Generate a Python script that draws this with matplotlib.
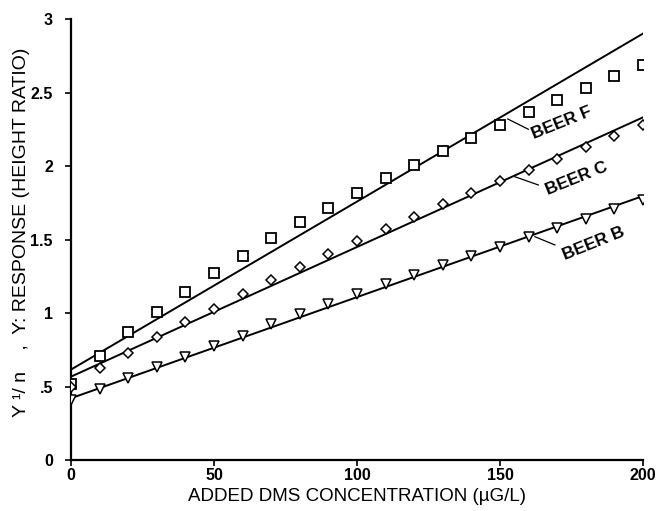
import matplotlib
matplotlib.use("Agg")
import matplotlib.pyplot as plt
import numpy as np

plt.rcParams['font.family'] = ['Liberation Sans', 'DejaVu Sans']

# Added DMS concentration (ug/L)
conc = [0, 10, 20, 30, 40, 50, 60, 70, 80, 90, 100,
        110, 120, 130, 140, 150, 160, 170, 180, 190, 200]

# Measured responses
beer_f = [0.52, 0.71, 0.87, 1.01, 1.145, 1.27, 1.39, 1.508, 1.617, 1.716, 1.818,
          1.916, 2.009, 2.10, 2.193, 2.279, 2.37, 2.449, 2.533, 2.612, 2.69]
beer_c = [0.50, 0.624, 0.73, 0.835, 0.939, 1.03, 1.13, 1.224, 1.315, 1.40, 1.49,
          1.571, 1.653, 1.739, 1.816, 1.896, 1.973, 2.05, 2.127, 2.202, 2.277]
beer_b = [0.41, 0.48, 0.56, 0.63, 0.703, 0.776, 0.846, 0.922, 0.996, 1.061, 1.129,
          1.195, 1.261, 1.327, 1.388, 1.451, 1.519, 1.576, 1.639, 1.705, 1.769]

# Regression lines (intercept, slope) for Y^(1/n)
fit_f = (0.615, 0.01143)
fit_c = (0.567, 0.00882)
fit_b = (0.42, 0.00688)

series_names = ["BEER F", "BEER C", "BEER B"]

y_ticks = [0, 0.5, 1, 1.5, 2, 2.5, 3]
y_tick_labels = ["0", ".5", "1", "1.5", "2", "2.5", "3"]
x_ticks = [0, 50, 100, 150, 200]
x_tick_labels = ["0", "50", "100", "150", "200"]

fig = plt.figure(figsize=(6.56, 5.11), dpi=100)
ax = fig.add_axes([0.1082, 0.0998, 0.8720, 0.8630])

xs = np.array([0, 200])
for (b0, b1) in (fit_f, fit_c, fit_b):
    ax.plot(xs, b0 + b1 * xs, color='black', lw=1.4, zorder=2)

ax.plot(conc, beer_f, linestyle='none', marker='s', ms=7.5, mfc='white',
        mec='black', mew=1.3, zorder=3)
ax.plot(conc, beer_c, linestyle='none', marker='D', ms=5, mfc='white',
        mec='black', mew=1.1, zorder=3)
ax.plot(conc, beer_b, linestyle='none', marker='v', ms=6.5, mfc='white',
        mec='black', mew=1.1, zorder=3)

# Series labels with leader lines
label_pos = [(171.6, 2.29), (176.8, 1.916), (182.6, 1.474)]
leaders = [((152.7, 2.32), (159.9, 2.25)),
           ((155.2, 1.927), (163.4, 1.871)),
           ((162.2, 1.519), (169.2, 1.463))]
for name, (lx, ly), (p0, p1) in zip(series_names, label_pos, leaders):
    ax.plot([p0[0], p1[0]], [p0[1], p1[1]], color='black', lw=0.9)
    ax.text(lx, ly, name, rotation=22, ha='center', va='center',
            fontsize=12.5, fontweight='bold')

ax.set_xlim(0, 200)
ax.set_ylim(0, 3)
ax.set_xticks(x_ticks)
ax.set_xticklabels(x_tick_labels, fontweight='bold', fontsize=11.5)
ax.set_yticks(y_ticks)
ax.set_yticklabels(y_tick_labels, fontweight='bold', fontsize=11.5)
ax.tick_params(axis='both', direction='out', length=4, width=1.2)
ax.tick_params(axis='x', pad=2)
ax.tick_params(axis='y', pad=9)

for side in ('top', 'right'):
    ax.spines[side].set_visible(False)
for side in ('left', 'bottom'):
    ax.spines[side].set_linewidth(1.6)

ax.set_xlabel("ADDED DMS CONCENTRATION (\u00b5G/L)", fontsize=13.5)
ax.xaxis.set_label_coords(0.5, -0.064, transform=ax.transAxes)
ax.set_ylabel("Y \u00b9/ n    ,  Y: RESPONSE (HEIGHT RATIO)", fontsize=14)
ax.yaxis.set_label_coords(-0.072, 0.517, transform=ax.transAxes)

fig.savefig("out.png", dpi=100)
